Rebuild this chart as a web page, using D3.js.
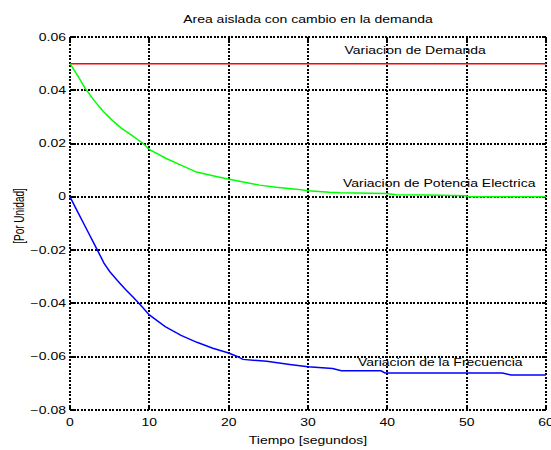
<!DOCTYPE html>
<html>
<head>
<meta charset="utf-8">
<script src="https://cdn.jsdelivr.net/npm/d3@7"></script>
<style>
  body { margin: 0; background: #fff; }
  text { font-family: "Liberation Sans", Arial, sans-serif; }
</style>
</head>
<body>
<div id="chart"></div>
<script>
// ---- data ----
var demandT = [0, 60];
var demandV = [0.05, 0.05];

var powerT = [0, 1, 1.9, 3, 4.2, 5.3, 6.5, 7.8, 9, 10.1, 12, 13.9, 15.95, 18, 19.9, 22, 23.9, 26, 28.5, 30, 32.7, 34, 38, 39.8, 41.1, 45, 49.9, 50.3, 55, 60];
var powerV = [0.05, 0.0453, 0.0408, 0.0363, 0.032, 0.0288, 0.0257, 0.0231, 0.0205, 0.0176, 0.0146, 0.012, 0.0093, 0.0079, 0.0067, 0.0055, 0.0044, 0.0036, 0.0029, 0.0023, 0.0017, 0.0015, 0.0014, 0.0013, 0.0008, 0.0007, 0.0004, 0.0, 0.0, 0.0];

var freqT = [0, 1, 2, 3, 4, 4.3, 5, 6, 7, 8, 9, 10, 12, 14, 16, 18, 20, 21, 21.8, 24.8, 27.7, 30, 33.1, 34.2, 39.2, 39.7, 54.5, 55.6, 60];
var freqV = [0, -0.0058, -0.0116, -0.0174, -0.0232, -0.025, -0.028, -0.0315, -0.0348, -0.0378, -0.041, -0.0443, -0.0487, -0.052, -0.0546, -0.0568, -0.0586, -0.0598, -0.061, -0.0617, -0.0629, -0.0638, -0.0644, -0.0653, -0.0653, -0.0661, -0.0661, -0.0669, -0.0669];

var xTicks = [0, 10, 20, 30, 40, 50, 60];
var yTicks = [-0.08, -0.06, -0.04, -0.02, 0, 0.02, 0.04, 0.06];

var labels = [
  { text: "Variacion de Demanda", t: 34.6, v: 0.0535 },
  { text: "Variacion de Potencia Electrica", t: 34.4, v: 0.0038 },
  { text: "Variacion de la Frecuencia", t: 36.3, v: -0.0634 }
];

// ---- svg area ----
var svgWidth = 551;
var svgHeight = 450;
var margin = { top: 37, left: 70 };
var width = 546 - margin.left;
var height = 410 - margin.top;
var stretch = 1.4;   // the reference text is stretched sideways

var svg = d3.select("#chart")
  .append("svg")
  .attr("width", svgWidth)
  .attr("height", svgHeight);

var g = svg.append("g")
  .attr("transform", `translate(${margin.left}, ${margin.top})`);

// scales
var x = d3.scaleLinear().domain([0, 60]).range([0, width]);
var y = d3.scaleLinear().domain([-0.08, 0.06]).range([height, 0]);

// grid (dotted, like matlab)
var grid = g.append("g").attr("class", "grid");
grid.selectAll(".gx")
  .data(xTicks)
  .enter()
  .append("line")
  .attr("x1", d => x(d)).attr("x2", d => x(d))
  .attr("y1", 0).attr("y2", height);
grid.selectAll(".gy")
  .data(yTicks)
  .enter()
  .append("line")
  .attr("x1", 0).attr("x2", width)
  .attr("y1", d => y(d)).attr("y2", d => y(d));
grid.selectAll("line")
  .attr("stroke", "#000")
  .attr("stroke-width", 2)
  .attr("stroke-dasharray", "2,1.5")
  .attr("shape-rendering", "crispEdges");

// inward ticks on all four sides
var tickLen = 4;
var ticks = g.append("g").attr("stroke", "#000").attr("stroke-width", 2).attr("shape-rendering", "crispEdges");
ticks.selectAll(".tb").data(xTicks).enter().append("line")
  .attr("x1", d => x(d)).attr("x2", d => x(d)).attr("y1", height).attr("y2", height - tickLen);
ticks.selectAll(".tt").data(xTicks).enter().append("line")
  .attr("x1", d => x(d)).attr("x2", d => x(d)).attr("y1", 0).attr("y2", tickLen);
ticks.selectAll(".tl").data(yTicks).enter().append("line")
  .attr("x1", 0).attr("x2", tickLen).attr("y1", d => y(d)).attr("y2", d => y(d));
ticks.selectAll(".tr").data(yTicks).enter().append("line")
  .attr("x1", width - tickLen).attr("x2", width).attr("y1", d => y(d)).attr("y2", d => y(d));

// tick labels
var fmtY = d => d === 0 ? "0" : d3.format(".2f")(d);
g.selectAll(".xl")
  .data(xTicks)
  .enter()
  .append("text")
  .attr("transform", d => `translate(${x(d)}, ${height + 16}) scale(${stretch},1)`)
  .attr("text-anchor", "middle")
  .attr("font-size", "10px")
  .text(d => d);
g.selectAll(".yl")
  .data(yTicks)
  .enter()
  .append("text")
  .attr("transform", d => `translate(-4, ${y(d) + 3.5}) scale(${stretch},1)`)
  .attr("text-anchor", "end")
  .attr("font-size", "10px")
  .text(fmtY);

// lines
var line = d3.line().x(d => x(d[0])).y(d => y(d[1]));
var series = [
  { t: demandT, v: demandV, color: "#ff0000" },
  { t: powerT, v: powerV, color: "#00ff00" },
  { t: freqT, v: freqV, color: "#0000ff" }
];
series.forEach(function(s) {
  g.append("path")
    .datum(s.t.map((t, i) => [t, s.v[i]]))
    .attr("fill", "none")
    .attr("stroke", s.color)
    .attr("stroke-width", 1.5)
    .attr("d", line);
});

// curve labels
g.selectAll(".lbl")
  .data(labels)
  .enter()
  .append("text")
  .attr("transform", d => `translate(${x(d.t)}, ${y(d.v)}) scale(${stretch},1)`)
  .attr("font-size", "10px")
  .attr("fill", "#000")
  .text(d => d.text);

// title and axis labels
svg.append("text")
  .attr("transform", `translate(${margin.left + width / 2}, 23) scale(${stretch},1)`)
  .attr("text-anchor", "middle")
  .attr("font-size", "10px")
  .text("Area aislada con cambio en la demanda");

svg.append("text")
  .attr("transform", `translate(${margin.left + width / 2}, 444) scale(${stretch},1)`)
  .attr("text-anchor", "middle")
  .attr("font-size", "10px")
  .text("Tiempo [segundos]");

svg.append("text")
  .attr("transform", `translate(24, 216) scale(${stretch},1) rotate(-90)`)
  .attr("text-anchor", "middle")
  .attr("font-size", "10px")
  .text("[Por Unidad]");
</script>
</body>
</html>
